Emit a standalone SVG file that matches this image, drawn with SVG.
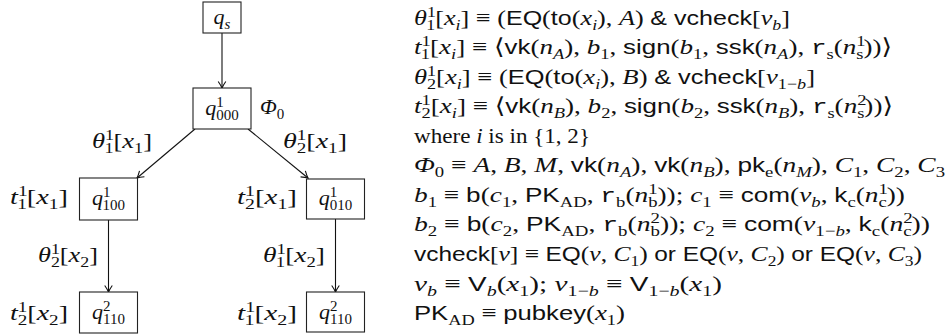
<svg xmlns="http://www.w3.org/2000/svg" width="951" height="335" viewBox="0 0 951 335">
<style>
text { font-family: "Liberation Serif", "DejaVu Serif", serif; font-size: 22px; fill: #111; }
.i { font-style: italic; }
.sf { font-family: "Liberation Sans", "DejaVu Sans", sans-serif; font-size: 21px; font-style: normal; }
.tt { font-family: "Liberation Mono", "DejaVu Sans Mono", monospace; font-size: 21px; }
.sc { font-size: 15px; }
.ang { font-family: "DejaVu Sans", sans-serif; font-size: 22px; }
.box { fill: #fff; stroke: #222; stroke-width: 1.1; }
.edge { fill: none; stroke: #111; stroke-width: 1.1; }
.mid { text-anchor: middle; }
</style>
<defs>
<marker id="ah" markerWidth="12" markerHeight="12" refX="10" refY="6" orient="auto" markerUnits="userSpaceOnUse">
<path d="M3.5,2.2 Q7.5,5 10,6 Q7.5,7 3.5,9.8" fill="none" stroke="#111" stroke-width="1.1"/>
</marker>
</defs>
<rect width="951" height="335" fill="#fff"/>

<g id="connectors">
<line class="edge" x1="222" y1="33" x2="222" y2="88" marker-end="url(#ah)"/>
<line class="edge" x1="195" y1="129" x2="137" y2="178" marker-end="url(#ah)"/>
<line class="edge" x1="248" y1="129" x2="308" y2="178" marker-end="url(#ah)"/>
<line class="edge" x1="108.5" y1="220" x2="108.5" y2="292" marker-end="url(#ah)"/>
<line class="edge" x1="335.5" y1="219" x2="335.5" y2="292" marker-end="url(#ah)"/>
<g id="edge-labels">
<text x="92" y="148" textLength="60" lengthAdjust="spacingAndGlyphs"><tspan class="i">θ</tspan><tspan class="sc" dy="-8">1</tspan><tspan class="sc" dx="-7.5" dy="13">1</tspan><tspan dy="-5">[</tspan><tspan class="i">x</tspan><tspan class="sc" dy="5">1</tspan><tspan dy="-5">]</tspan></text>
<text x="283" y="148" textLength="64" lengthAdjust="spacingAndGlyphs"><tspan class="i">θ</tspan><tspan class="sc" dy="-8">1</tspan><tspan class="sc" dx="-7.5" dy="13">2</tspan><tspan dy="-5">[</tspan><tspan class="i">x</tspan><tspan class="sc" dy="5">1</tspan><tspan dy="-5">]</tspan></text>
<text x="38" y="262" textLength="60" lengthAdjust="spacingAndGlyphs"><tspan class="i">θ</tspan><tspan class="sc" dy="-8">1</tspan><tspan class="sc" dx="-7.5" dy="13">2</tspan><tspan dy="-5">[</tspan><tspan class="i">x</tspan><tspan class="sc" dy="5">2</tspan><tspan dy="-5">]</tspan></text>
<text x="263" y="262" textLength="62" lengthAdjust="spacingAndGlyphs"><tspan class="i">θ</tspan><tspan class="sc" dy="-8">1</tspan><tspan class="sc" dx="-7.5" dy="13">1</tspan><tspan dy="-5">[</tspan><tspan class="i">x</tspan><tspan class="sc" dy="5">2</tspan><tspan dy="-5">]</tspan></text>
</g>
</g>

<g id="n-qs">
<rect class="box" x="203" y="2" width="38" height="31"/>
<text class="mid" x="222" y="24"><tspan class="i">q</tspan><tspan class="i sc" dy="5">s</tspan></text>
</g>

<g id="n-q000">
<rect class="box" x="193" y="88" width="58" height="41"/>
<text class="mid" x="222" y="115"><tspan class="i">q</tspan><tspan class="sc" dy="-8">1</tspan><tspan class="sc" dx="-7.5" dy="13">000</tspan></text>
<text x="260" y="114"><tspan class="i">Φ</tspan><tspan class="sc" dy="5">0</tspan></text>
</g>

<g id="n-q100">
<rect class="box" x="79.5" y="178" width="58" height="42"/>
<text class="mid" x="108.5" y="205"><tspan class="i">q</tspan><tspan class="sc" dy="-8">1</tspan><tspan class="sc" dx="-7.5" dy="13">100</tspan></text>
<text x="10" y="204" textLength="58" lengthAdjust="spacingAndGlyphs"><tspan class="i">t</tspan><tspan class="sc" dy="-8">1</tspan><tspan class="sc" dx="-7.5" dy="13">1</tspan><tspan dy="-5">[</tspan><tspan class="i">x</tspan><tspan class="sc" dy="5">1</tspan><tspan dy="-5">]</tspan></text>
</g>

<g id="n-q010">
<rect class="box" x="306.5" y="179" width="58" height="40"/>
<text class="mid" x="335.5" y="205"><tspan class="i">q</tspan><tspan class="sc" dy="-8">1</tspan><tspan class="sc" dx="-7.5" dy="13">010</tspan></text>
<text x="237" y="204" textLength="60" lengthAdjust="spacingAndGlyphs"><tspan class="i">t</tspan><tspan class="sc" dy="-8">1</tspan><tspan class="sc" dx="-7.5" dy="13">2</tspan><tspan dy="-5">[</tspan><tspan class="i">x</tspan><tspan class="sc" dy="5">1</tspan><tspan dy="-5">]</tspan></text>
</g>

<g id="n-q110-left">
<rect class="box" x="79.5" y="292" width="58" height="41"/>
<text class="mid" x="108.5" y="319"><tspan class="i">q</tspan><tspan class="sc" dy="-8">2</tspan><tspan class="sc" dx="-7.5" dy="13">110</tspan></text>
<text x="10" y="320" textLength="58" lengthAdjust="spacingAndGlyphs"><tspan class="i">t</tspan><tspan class="sc" dy="-8">1</tspan><tspan class="sc" dx="-7.5" dy="13">2</tspan><tspan dy="-5">[</tspan><tspan class="i">x</tspan><tspan class="sc" dy="5">2</tspan><tspan dy="-5">]</tspan></text>
</g>

<g id="n-q110-right">
<rect class="box" x="306.5" y="292" width="58" height="40"/>
<text class="mid" x="335.5" y="319"><tspan class="i">q</tspan><tspan class="sc" dy="-8">2</tspan><tspan class="sc" dx="-7.5" dy="13">110</tspan></text>
<text x="237" y="320" textLength="60" lengthAdjust="spacingAndGlyphs"><tspan class="i">t</tspan><tspan class="sc" dy="-8">1</tspan><tspan class="sc" dx="-7.5" dy="13">1</tspan><tspan dy="-5">[</tspan><tspan class="i">x</tspan><tspan class="sc" dy="5">2</tspan><tspan dy="-5">]</tspan></text>
</g>

<g id="definitions">
<text x="414" y="25" textLength="376" lengthAdjust="spacingAndGlyphs"><tspan class="i">θ</tspan><tspan class="sc" dy="-8">1</tspan><tspan class="sc" dx="-7.5" dy="13">1</tspan><tspan dy="-5">[</tspan><tspan class="i">x</tspan><tspan class="i sc" dy="5">i</tspan><tspan dy="-5">] ≡ (</tspan><tspan class="sf">EQ</tspan><tspan>(</tspan><tspan class="sf">to</tspan><tspan>(</tspan><tspan class="i">x</tspan><tspan class="i sc" dy="5">i</tspan><tspan dy="-5">), </tspan><tspan class="i">A</tspan><tspan>) </tspan><tspan class="sf">&amp; vcheck</tspan><tspan>[</tspan><tspan class="i">v</tspan><tspan class="i sc" dy="5">b</tspan><tspan dy="-5">]</tspan></text>
<text x="414" y="54" textLength="478" lengthAdjust="spacingAndGlyphs"><tspan class="i">t</tspan><tspan class="sc" dy="-8">1</tspan><tspan class="sc" dx="-7.5" dy="13">1</tspan><tspan dy="-5">[</tspan><tspan class="i">x</tspan><tspan class="i sc" dy="5">i</tspan><tspan dy="-5">] ≡ </tspan><tspan class="ang">⟨</tspan><tspan class="sf">vk</tspan><tspan>(</tspan><tspan class="i">n</tspan><tspan class="i sc" dy="5">A</tspan><tspan dy="-5">), </tspan><tspan class="i">b</tspan><tspan class="sc" dy="5">1</tspan><tspan dy="-5">, </tspan><tspan class="sf">sign</tspan><tspan>(</tspan><tspan class="i">b</tspan><tspan class="sc" dy="5">1</tspan><tspan dy="-5">, </tspan><tspan class="sf">ssk</tspan><tspan>(</tspan><tspan class="i">n</tspan><tspan class="i sc" dy="5">A</tspan><tspan dy="-5">), </tspan><tspan class="tt">r</tspan><tspan class="sc" dy="5">s</tspan><tspan dy="-5">(</tspan><tspan class="i">n</tspan><tspan class="sc" dy="-8">1</tspan><tspan class="sc" dx="-7.5" dy="13">s</tspan><tspan dy="-5">))</tspan><tspan class="ang">⟩</tspan></text>
<text x="414" y="84" textLength="401" lengthAdjust="spacingAndGlyphs"><tspan class="i">θ</tspan><tspan class="sc" dy="-8">1</tspan><tspan class="sc" dx="-7.5" dy="13">2</tspan><tspan dy="-5">[</tspan><tspan class="i">x</tspan><tspan class="i sc" dy="5">i</tspan><tspan dy="-5">] ≡ (</tspan><tspan class="sf">EQ</tspan><tspan>(</tspan><tspan class="sf">to</tspan><tspan>(</tspan><tspan class="i">x</tspan><tspan class="i sc" dy="5">i</tspan><tspan dy="-5">), </tspan><tspan class="i">B</tspan><tspan>) </tspan><tspan class="sf">&amp; vcheck</tspan><tspan>[</tspan><tspan class="i">v</tspan><tspan class="sc" dy="5">1−</tspan><tspan class="i sc">b</tspan><tspan dy="-5">]</tspan></text>
<text x="414" y="113" textLength="479" lengthAdjust="spacingAndGlyphs"><tspan class="i">t</tspan><tspan class="sc" dy="-8">1</tspan><tspan class="sc" dx="-7.5" dy="13">2</tspan><tspan dy="-5">[</tspan><tspan class="i">x</tspan><tspan class="i sc" dy="5">i</tspan><tspan dy="-5">] ≡ </tspan><tspan class="ang">⟨</tspan><tspan class="sf">vk</tspan><tspan>(</tspan><tspan class="i">n</tspan><tspan class="i sc" dy="5">B</tspan><tspan dy="-5">), </tspan><tspan class="i">b</tspan><tspan class="sc" dy="5">2</tspan><tspan dy="-5">, </tspan><tspan class="sf">sign</tspan><tspan>(</tspan><tspan class="i">b</tspan><tspan class="sc" dy="5">2</tspan><tspan dy="-5">, </tspan><tspan class="sf">ssk</tspan><tspan>(</tspan><tspan class="i">n</tspan><tspan class="i sc" dy="5">B</tspan><tspan dy="-5">), </tspan><tspan class="tt">r</tspan><tspan class="sc" dy="5">s</tspan><tspan dy="-5">(</tspan><tspan class="i">n</tspan><tspan class="sc" dy="-8">2</tspan><tspan class="sc" dx="-7.5" dy="13">s</tspan><tspan dy="-5">))</tspan><tspan class="ang">⟩</tspan></text>
<text x="414" y="143" textLength="176" lengthAdjust="spacingAndGlyphs"><tspan>where </tspan><tspan class="i">i</tspan><tspan> is in {1, 2}</tspan></text>
<text x="414" y="172" textLength="531" lengthAdjust="spacingAndGlyphs"><tspan class="i">Φ</tspan><tspan class="sc" dy="5">0</tspan><tspan dy="-5"> ≡ </tspan><tspan class="i">A</tspan><tspan>, </tspan><tspan class="i">B</tspan><tspan>, </tspan><tspan class="i">M</tspan><tspan>, </tspan><tspan class="sf">vk</tspan><tspan>(</tspan><tspan class="i">n</tspan><tspan class="i sc" dy="5">A</tspan><tspan dy="-5">), </tspan><tspan class="sf">vk</tspan><tspan>(</tspan><tspan class="i">n</tspan><tspan class="i sc" dy="5">B</tspan><tspan dy="-5">), </tspan><tspan class="sf">pk</tspan><tspan class="sc" dy="5">e</tspan><tspan dy="-5">(</tspan><tspan class="i">n</tspan><tspan class="i sc" dy="5">M</tspan><tspan dy="-5">), </tspan><tspan class="i">C</tspan><tspan class="sc" dy="5">1</tspan><tspan dy="-5">, </tspan><tspan class="i">C</tspan><tspan class="sc" dy="5">2</tspan><tspan dy="-5">, </tspan><tspan class="i">C</tspan><tspan class="sc" dy="5">3</tspan></text>
<text x="414" y="202" textLength="491" lengthAdjust="spacingAndGlyphs"><tspan class="i">b</tspan><tspan class="sc" dy="5">1</tspan><tspan dy="-5"> ≡ </tspan><tspan class="sf">b</tspan><tspan>(</tspan><tspan class="i">c</tspan><tspan class="sc" dy="5">1</tspan><tspan dy="-5">, </tspan><tspan class="sf">PK</tspan><tspan class="sc" dy="5">AD</tspan><tspan dy="-5">, </tspan><tspan class="tt">r</tspan><tspan class="sc" dy="5">b</tspan><tspan dy="-5">(</tspan><tspan class="i">n</tspan><tspan class="sc" dy="-8">1</tspan><tspan class="sc" dx="-7.5" dy="13">b</tspan><tspan dy="-5">)); </tspan><tspan class="i">c</tspan><tspan class="sc" dy="5">1</tspan><tspan dy="-5"> ≡ </tspan><tspan class="sf">com</tspan><tspan>(</tspan><tspan class="i">v</tspan><tspan class="i sc" dy="5">b</tspan><tspan dy="-5">, </tspan><tspan class="sf">k</tspan><tspan class="sc" dy="5">c</tspan><tspan dy="-5">(</tspan><tspan class="i">n</tspan><tspan class="sc" dy="-8">1</tspan><tspan class="sc" dx="-7.5" dy="13">c</tspan><tspan dy="-5">))</tspan></text>
<text x="414" y="231" textLength="516" lengthAdjust="spacingAndGlyphs"><tspan class="i">b</tspan><tspan class="sc" dy="5">2</tspan><tspan dy="-5"> ≡ </tspan><tspan class="sf">b</tspan><tspan>(</tspan><tspan class="i">c</tspan><tspan class="sc" dy="5">2</tspan><tspan dy="-5">, </tspan><tspan class="sf">PK</tspan><tspan class="sc" dy="5">AD</tspan><tspan dy="-5">, </tspan><tspan class="tt">r</tspan><tspan class="sc" dy="5">b</tspan><tspan dy="-5">(</tspan><tspan class="i">n</tspan><tspan class="sc" dy="-8">2</tspan><tspan class="sc" dx="-7.5" dy="13">b</tspan><tspan dy="-5">)); </tspan><tspan class="i">c</tspan><tspan class="sc" dy="5">2</tspan><tspan dy="-5"> ≡ </tspan><tspan class="sf">com</tspan><tspan>(</tspan><tspan class="i">v</tspan><tspan class="sc" dy="5">1−</tspan><tspan class="i sc">b</tspan><tspan dy="-5">, </tspan><tspan class="sf">k</tspan><tspan class="sc" dy="5">c</tspan><tspan dy="-5">(</tspan><tspan class="i">n</tspan><tspan class="sc" dy="-8">2</tspan><tspan class="sc" dx="-7.5" dy="13">c</tspan><tspan dy="-5">))</tspan></text>
<text x="414" y="261" textLength="508" lengthAdjust="spacingAndGlyphs"><tspan class="sf">vcheck</tspan><tspan>[</tspan><tspan class="i">v</tspan><tspan>] ≡ </tspan><tspan class="sf">EQ</tspan><tspan>(</tspan><tspan class="i">v</tspan><tspan>, </tspan><tspan class="i">C</tspan><tspan class="sc" dy="5">1</tspan><tspan dy="-5">) </tspan><tspan class="sf">or EQ</tspan><tspan>(</tspan><tspan class="i">v</tspan><tspan>, </tspan><tspan class="i">C</tspan><tspan class="sc" dy="5">2</tspan><tspan dy="-5">) </tspan><tspan class="sf">or EQ</tspan><tspan>(</tspan><tspan class="i">v</tspan><tspan>, </tspan><tspan class="i">C</tspan><tspan class="sc" dy="5">3</tspan><tspan dy="-5">)</tspan></text>
<text x="414" y="291" textLength="308" lengthAdjust="spacingAndGlyphs"><tspan class="i">v</tspan><tspan class="i sc" dy="5">b</tspan><tspan dy="-5"> ≡ </tspan><tspan class="sf">V</tspan><tspan class="i sc" dy="5">b</tspan><tspan dy="-5">(</tspan><tspan class="i">x</tspan><tspan class="sc" dy="5">1</tspan><tspan dy="-5">); </tspan><tspan class="i">v</tspan><tspan class="sc" dy="5">1−</tspan><tspan class="i sc">b</tspan><tspan dy="-5"> ≡ </tspan><tspan class="sf">V</tspan><tspan class="sc" dy="5">1−</tspan><tspan class="i sc">b</tspan><tspan dy="-5">(</tspan><tspan class="i">x</tspan><tspan class="sc" dy="5">1</tspan><tspan dy="-5">)</tspan></text>
<text x="414" y="320" textLength="211" lengthAdjust="spacingAndGlyphs"><tspan class="sf">PK</tspan><tspan class="sc" dy="5">AD</tspan><tspan dy="-5"> ≡ </tspan><tspan class="sf">pubkey</tspan><tspan>(</tspan><tspan class="i">x</tspan><tspan class="sc" dy="5">1</tspan><tspan dy="-5">)</tspan></text>
</g>
</svg>
